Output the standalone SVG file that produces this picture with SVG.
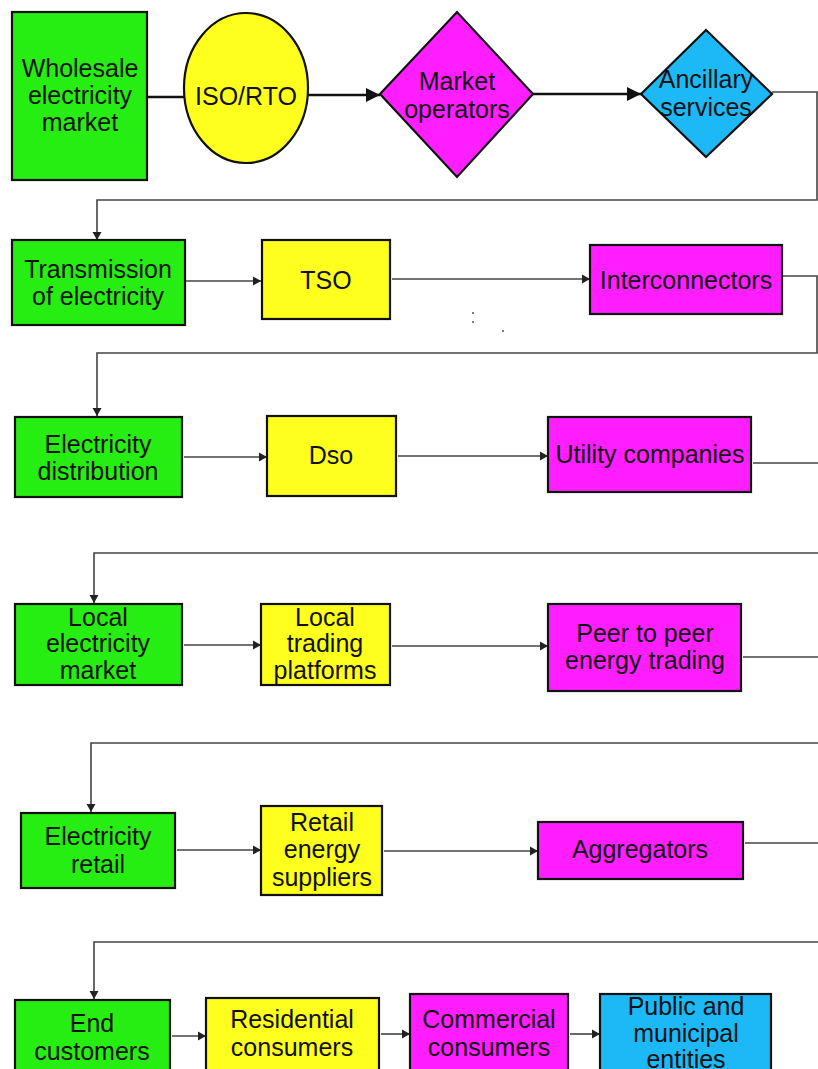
<svg xmlns="http://www.w3.org/2000/svg" width="818" height="1069" viewBox="0 0 818 1069">
<style>
.t{font-family:"Liberation Sans",Arial,sans-serif;font-size:25px;fill:#111;text-anchor:middle}
.b{stroke:#111;stroke-width:2.2}
.g{fill:#27ee12}
.y{fill:#ffff1e}
.m{fill:#ff1eff}
.c{fill:#1cb9f6}
.k{fill:none;stroke:#111;stroke-width:2.4}
.l{fill:none;stroke:#444;stroke-width:1.6}
</style>
<defs>
<marker id="ab" markerUnits="userSpaceOnUse" markerWidth="16" markerHeight="16" refX="14" refY="8" orient="auto"><path d="M0,1 L14,8 L0,15 Z" fill="#111"/></marker>
<marker id="as" markerUnits="userSpaceOnUse" markerWidth="10" markerHeight="10" refX="8" refY="5" orient="auto"><path d="M0,0.5 L8,5 L0,9.5 Z" fill="#222"/></marker>
</defs>
<rect width="818" height="1069" fill="#fff"/>
<g id="connectors">
<line class="k" x1="147" y1="97" x2="184" y2="97"/>
<line class="k" x1="308" y1="95" x2="380" y2="95" marker-end="url(#ab)"/>
<line class="k" x1="533" y1="94" x2="641" y2="94" marker-end="url(#ab)"/>
<path class="l" d="M772,92 H817 V200 H97 V240" marker-end="url(#as)"/>
<line class="l" x1="186" y1="281" x2="261" y2="281" marker-end="url(#as)"/>
<line class="l" x1="392" y1="279" x2="590" y2="279" marker-end="url(#as)"/>
<path class="l" d="M783,276 H817 V353 H97 V416" marker-end="url(#as)"/>
<line class="l" x1="184" y1="457" x2="267" y2="457" marker-end="url(#as)"/>
<line class="l" x1="398" y1="456" x2="548" y2="456" marker-end="url(#as)"/>
<path class="l" d="M753,463 H822 V553 H94 V603" marker-end="url(#as)"/>
<line class="l" x1="184" y1="645" x2="261" y2="645" marker-end="url(#as)"/>
<line class="l" x1="392" y1="646" x2="548" y2="646" marker-end="url(#as)"/>
<path class="l" d="M743,657 H822 V743 H91 V812" marker-end="url(#as)"/>
<line class="l" x1="177" y1="850" x2="261" y2="850" marker-end="url(#as)"/>
<line class="l" x1="384" y1="851" x2="538" y2="851" marker-end="url(#as)"/>
<path class="l" d="M745,843 H822 V942 H94 V999" marker-end="url(#as)"/>
<line class="l" x1="172" y1="1036" x2="206" y2="1036" marker-end="url(#as)"/>
<line class="l" x1="381" y1="1034" x2="410" y2="1034" marker-end="url(#as)"/>
<line class="l" x1="570" y1="1034" x2="600" y2="1034" marker-end="url(#as)"/>
</g>
<g id="wholesale"><rect class="g b" x="12" y="12" width="135" height="168"/><text class="t" x="80" y="77">Wholesale</text><text class="t" x="80" y="104">electricity</text><text class="t" x="80" y="131">market</text></g>
<g id="iso-rto"><ellipse class="y b" cx="246" cy="88" rx="62" ry="75"/><text class="t" x="246" y="105">ISO/RTO</text></g>
<g id="market-operators"><polygon class="m b" points="380,94 457,12 533,94 457,177"/><text class="t" x="457" y="90">Market</text><text class="t" x="457" y="118">operators</text></g>
<g id="ancillary"><polygon class="c b" points="641,94 706,30 772,94 706,157"/><text class="t" x="706" y="88">Ancillary</text><text class="t" x="706" y="116">services</text></g>
<g id="transmission"><rect class="g b" x="12" y="240" width="173" height="85"/><text class="t" x="98" y="278">Transmission</text><text class="t" x="98" y="305">of electricity</text></g>
<g id="tso"><rect class="y b" x="262" y="240" width="128" height="79"/><text class="t" x="326" y="289">TSO</text></g>
<g id="interconnectors"><rect class="m b" x="590" y="245" width="192" height="69"/><text class="t" x="686" y="289">Interconnectors</text></g>
<g id="dots" fill="#555"><circle cx="473" cy="313" r="1"/><circle cx="473" cy="322" r="1"/><circle cx="503" cy="331" r="1"/></g>
<g id="distribution"><rect class="g b" x="15" y="417" width="167" height="80"/><text class="t" x="98" y="453">Electricity</text><text class="t" x="98" y="480">distribution</text></g>
<g id="dso"><rect class="y b" x="267" y="416" width="129" height="80"/><text class="t" x="331" y="464">Dso</text></g>
<g id="utility"><rect class="m b" x="548" y="417" width="203" height="75"/><text class="t" x="650" y="463">Utility companies</text></g>
<g id="local-market"><rect class="g b" x="15" y="604" width="167" height="81"/><text class="t" x="98" y="626">Local</text><text class="t" x="98" y="652">electricity</text><text class="t" x="98" y="679">market</text></g>
<g id="local-platforms"><rect class="y b" x="261" y="604" width="129" height="81"/><text class="t" x="325" y="626">Local</text><text class="t" x="325" y="652">trading</text><text class="t" x="325" y="679">platforms</text></g>
<g id="p2p"><rect class="m b" x="548" y="604" width="193" height="87"/><text class="t" x="645" y="642">Peer to peer</text><text class="t" x="645" y="669">energy trading</text></g>
<g id="retail"><rect class="g b" x="21" y="813" width="154" height="75"/><text class="t" x="98" y="845">Electricity</text><text class="t" x="98" y="873">retail</text></g>
<g id="retail-suppliers"><rect class="y b" x="261" y="806" width="121" height="89"/><text class="t" x="322" y="831">Retail</text><text class="t" x="322" y="858">energy</text><text class="t" x="322" y="886">suppliers</text></g>
<g id="aggregators"><rect class="m b" x="538" y="822" width="205" height="57"/><text class="t" x="640" y="858">Aggregators</text></g>
<g id="end-customers"><rect class="g b" x="15" y="1000" width="155" height="80"/><text class="t" x="92" y="1032">End</text><text class="t" x="92" y="1060">customers</text></g>
<g id="residential"><rect class="y b" x="206" y="998" width="173" height="82"/><text class="t" x="292" y="1028">Residential</text><text class="t" x="292" y="1056">consumers</text></g>
<g id="commercial"><rect class="m b" x="410" y="994" width="158" height="86"/><text class="t" x="489" y="1028">Commercial</text><text class="t" x="489" y="1056">consumers</text></g>
<g id="public"><rect class="c b" x="600" y="994" width="171" height="86"/><text class="t" x="686" y="1015">Public and</text><text class="t" x="686" y="1042">municipal</text><text class="t" x="686" y="1068">entities</text></g>
</svg>
